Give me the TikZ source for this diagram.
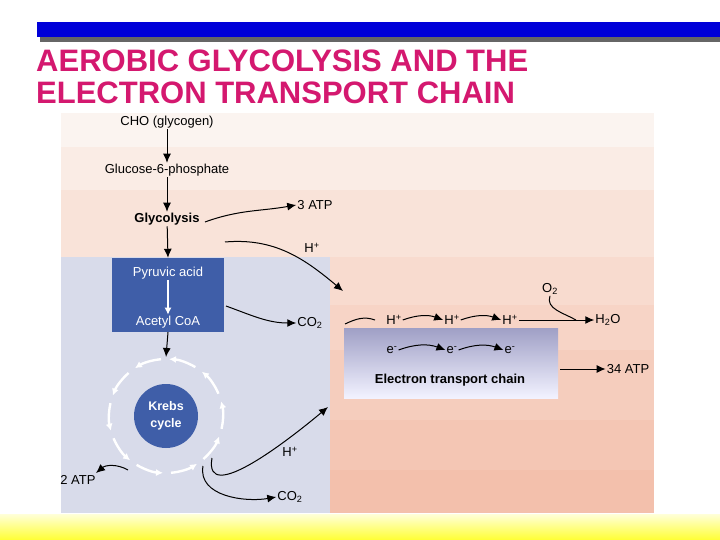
\documentclass[tikz,border=0pt]{standalone}
\usepackage{fontspec}
\setmainfont{Liberation Sans}
\usetikzlibrary{arrows.meta}
\definecolor{mag}{HTML}{D4186F}
\definecolor{dblue}{HTML}{3F5EA8}
\definecolor{lblue}{HTML}{D8DBEA}
\begin{document}
\begin{tikzpicture}[x=1pt,y=-1pt,
  lab/.style={font=\fontsize{13}{13}\selectfont,inner sep=1pt},
  arr/.style={-{Latex[length=9pt,width=8pt]},line width=1pt},
  warr/.style={white,-{Latex[length=7pt,width=7pt]},line width=2.4pt}]
\useasboundingbox (0,0) rectangle (720,540);
\fill[white] (0,0) rectangle (720,540);
% top bar
\fill[black!60] (40,27) rectangle (720,42);
\fill[blue!85!black] (37,22) rectangle (720,37);
% bottom strip
\shade[top color=yellow!15, bottom color=yellow!80] (0,514) rectangle (720,540);
% background bands
\foreach \a/\b/\c in {113/147/FBF4F0,147/190/FAECE5,190/257/F9E3D9,257/305/F8DBCF,305/350/F7D4C6,350/420/F5CDBD,420/470/F4C6B4,470/513/F3C0AC}{
  \definecolor{bc}{HTML}{\c}\fill[bc] (61,\a) rectangle (654,\b);}
\fill[lblue] (61,257) rectangle (330,513);
% title
\node[anchor=west,text=mag,font=\fontsize{31}{31}\selectfont\bfseries,inner sep=0] (t1) at (36,61) {AEROBIC GLYCOLYSIS AND THE};
\node[anchor=west,text=mag,font=\fontsize{31}{31}\selectfont\bfseries,inner sep=0] (t2) at (36,93) {ELECTRON TRANSPORT CHAIN};
% glycolysis chain
\node[lab] (cho) at (167,122) {CHO (glycogen)};
\node[lab] (g6p) at (167,170) {Glucose-6-phosphate};
\node[lab,font=\fontsize{13}{13}\selectfont\bfseries] (gly) at (167,219) {Glycolysis};
\draw[arr] (cho) -- (g6p);
\draw[arr] (g6p) -- (gly);
\node[fill=dblue,minimum width=112pt,minimum height=74pt,inner sep=0] (box) at (168,295) {};
\node[lab,text=white] (pyr) at (168,273) {Pyruvic acid};
\node[lab,text=white] (aco) at (168,322) {Acetyl CoA};
\draw[arr] (gly) -- (box.north);
\draw[warr] (pyr) -- (aco);
\node[circle,fill=dblue,minimum size=64pt,inner sep=0,text=white,align=center,font=\fontsize{12.5}{17}\selectfont\bfseries] (krebs) at (166,416) {Krebs\\cycle};
\coordinate (kt) at (166,357);
\draw[arr] (box.south) -- (kt);
\foreach \s in {85,49,13,-23,-59,-95,-131,-167,-203,-239}{
  \draw[warr] (166,416) ++(\s:57) arc[start angle=\s,end angle=\s-28,radius=57];}
% side products
\node[lab] (atp3) at (315,205) {3 ATP};
\draw[arr] (205,222) to[out=20,in=190] (atp3.west);
\node[lab] (hp1) at (312,248) {H\textsuperscript{+}};
\coordinate (h1e) at (343,291);
\draw[arr] (225,242) to[out=5,in=140] (h1e);
\node[lab] (co2a) at (310,323) {CO\textsubscript{2}};
\draw[arr] (226,306) to[out=-20,in=180] (co2a.west);
\node[lab] (hp2) at (290,452) {H\textsuperscript{+}};
\coordinate (h2e) at (328,407);
\draw[arr] (212,458) to[out=-100,in=220] (h2e);
\node[lab] (co2b) at (290,497) {CO\textsubscript{2}};
\draw[arr] (203,466) to[out=-100,in=190] (co2b.west);
\node[lab] (atp2) at (78,480) {2 ATP};
\draw[arr] (128,470) to[out=150,in=40] (96,473);
% ETC
\shade[top color=blue!25!gray!60!white, bottom color=blue!5!white] (344,328) rectangle (558,398);
\node[lab,font=\fontsize{13}{13}\selectfont\bfseries] (etc) at (450,380) {Electron transport chain};
\node[lab] (e1) at (392,350) {e\textsuperscript{-}};
\node[lab] (e2) at (452,350) {e\textsuperscript{-}};
\node[lab] (e3) at (510,350) {e\textsuperscript{-}};
\draw[arr] (e1.east) to[out=20,in=160] (e2.west);
\draw[arr] (e2.east) to[out=20,in=160] (e3.west);
\node[lab] (ha) at (394,320) {H\textsuperscript{+}};
\node[lab] (hb) at (452,320) {H\textsuperscript{+}};
\node[lab] (hc) at (510,320) {H\textsuperscript{+}};
\coordinate (hs) at (345,324);
\coordinate (hs2) at (375,320);
\draw[line width=1pt] (hs) to[out=25,in=160] (hs2);
\draw[arr] (ha.east) to[out=20,in=160] (hb.west);
\draw[arr] (hb.east) to[out=20,in=160] (hc.west);
\node[lab] (h2o) at (608,320) {H\textsubscript{2}O};
\node[lab] (o2) at (550,289) {O\textsubscript{2}};
\draw[arr] (hc.east) -- (h2o.west);
\coordinate (oe) at (576,320);
\draw[line width=1pt] (o2.south) to[out=-110,in=150] (oe);
\node[lab] (atp34) at (628,369) {34 ATP};
\coordinate (ae) at (560,369);
\draw[arr] (ae) -- (atp34.west);
\end{tikzpicture}
\end{document}
